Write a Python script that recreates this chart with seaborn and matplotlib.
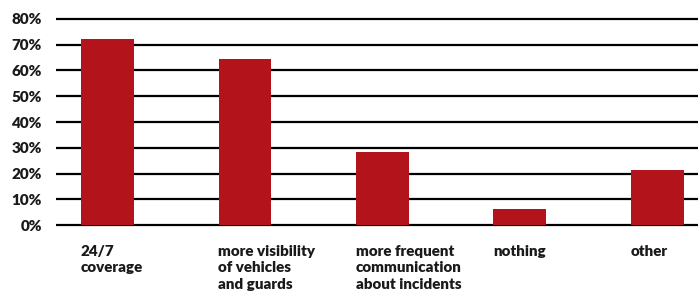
import matplotlib
matplotlib.use("Agg")
import matplotlib.pyplot as plt
import matplotlib.transforms as mtransforms
import seaborn as sns
import pandas as pd

categories = ["24/7\ncoverage", "more visibility\nof vehicles\nand guards",
              "more frequent\ncommunication\nabout incidents", "nothing", "other"]
values = [72.3, 64.5, 28.4, 6.3, 21.5]
yticks = [0, 10, 20, 30, 40, 50, 60, 70, 80]
ytick_labels = [f"{v}%" for v in yticks]

sns.set_theme(style="white")
plt.rcParams['font.family'] = ['Lato', 'DejaVu Sans']

W, H = 698, 293
fig = plt.figure(figsize=(W / 100, H / 100), dpi=100)
left_px, right_px = 56, 698
top_px, bottom_px = 16.4, 227.1
ax = fig.add_axes([left_px / W, 1 - bottom_px / H, (right_px - left_px) / W, (bottom_px - top_px) / H])

df = pd.DataFrame({"cat": categories, "val": values})
sns.barplot(data=df, x="cat", y="val", color="#B3141B", width=0.385, saturation=1,
            linewidth=0, ax=ax, zorder=3)

ax.set_ylim(-0.8, 81)
ax.set_xlim(-0.3745, 4.295)
ax.set_yticks(yticks)
ax.set_yticklabels(ytick_labels, fontsize=11, fontweight="heavy", color="#1a1a1a")
ax.tick_params(axis="y", length=0, pad=10)
ax.set_xticks([])
ax.set_xlabel("")
ax.set_ylabel("")
for s in ax.spines.values():
    s.set_visible(False)
for v in yticks:
    ax.axhline(v, color="black", linewidth=1.6, zorder=2)

trans = mtransforms.blended_transform_factory(ax.transData, fig.transFigure)
for i, lab in enumerate(categories):
    ax.text(i - 0.193, 1 - 245 / H, lab, transform=trans, ha="left", va="top",
            fontsize=10.9, fontweight="heavy", color="#1a1a1a", linespacing=1.3)

fig.savefig("out.png", dpi=100)
